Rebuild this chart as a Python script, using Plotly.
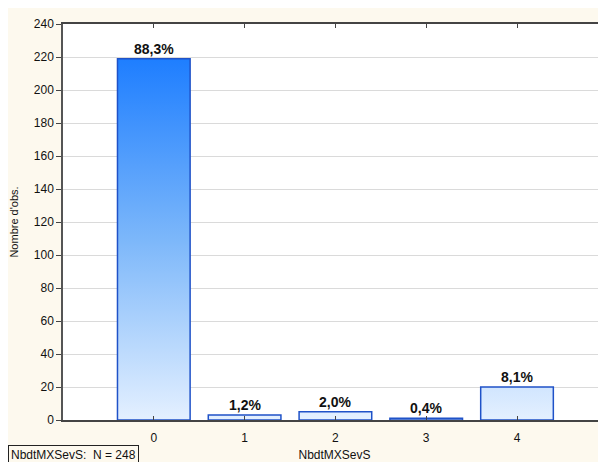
import plotly.graph_objects as go

categories = [0, 1, 2, 3, 4]
counts = [219, 3, 5, 1, 20]
pct_labels = ["88,3%", "1,2%", "2,0%", "0,4%", "8,1%"]
y_ticks = list(range(0, 241, 20))
n_total = 248

# page is rendered with an 8px body margin
W, H = 598, 454
ML, MR, MT, MB = 55, 0, 16, 42
pw = W - ML - MR
ph = H - MT - MB

bar_w = 0.8
fig = go.Figure()
for c, v in zip(categories, counts):
    xs = [c - bar_w / 2, c - bar_w / 2, c + bar_w / 2, c + bar_w / 2, c - bar_w / 2]
    ys = [0, v, v, 0, 0]
    fig.add_trace(go.Scatter(
        x=xs, y=ys, mode="lines", fill="toself",
        line=dict(color="#1F52C8", width=1.5),
        fillgradient=dict(type="vertical", start=0, stop=max(counts),
                          colorscale=[[0, "#E4F0FF"], [0.5, "#7CB7FA"], [1, "#1E7EFF"]]),
        showlegend=False, hoverinfo="skip",
    ))

for c, v, t in zip(categories, counts, pct_labels):
    fig.add_annotation(x=c, y=v, text="<b>" + t + "</b>", showarrow=False,
                       yanchor="bottom", yshift=0,
                       font=dict(family="Liberation Sans, Arial", size=14, color="#111"))


def px_to_paper_x(p):
    return (p - ML) / pw


def px_to_paper_y(p):
    return (H - MB - p) / ph


fig.add_annotation(xref="paper", yref="paper", x=px_to_paper_x(0), y=px_to_paper_y(437),
                   xanchor="left", yanchor="top", showarrow=False,
                   text=f"NbdtMXSevS:&nbsp; N = {n_total}",
                   bordercolor="#222", borderwidth=1, borderpad=2, bgcolor="#FDF9EE",
                   font=dict(family="Liberation Sans, Arial", size=12, color="#111"))

fig.update_layout(
    width=W, height=H,
    margin=dict(l=ML, r=MR, t=MT, b=MB, pad=0),
    paper_bgcolor="#FDF9EE", plot_bgcolor="white",
    font=dict(family="Liberation Sans, Arial", size=12, color="#111"),
    xaxis=dict(range=[-1.0, 4.98], tickmode="array", tickvals=categories,
               ticktext=[str(c) for c in categories],
               ticks="inside", ticklen=4, tickcolor="#444",
               showline=True, linecolor="#444", linewidth=1.5, mirror="ticks",
               showgrid=False, zeroline=False, ticklabelstandoff=6,
               title=dict(text="NbdtMXSevS", font=dict(size=12), standoff=8),
               tickfont=dict(size=12)),
    yaxis=dict(range=[0, 240], tickmode="array", tickvals=y_ticks,
               ticks="outside", ticklen=5, tickcolor="#444",
               showline=True, linecolor="#555", linewidth=1.5,
               showgrid=True, gridcolor="#DADADA", gridwidth=1, zeroline=False,
               title=dict(text="Nombre d'obs.", font=dict(size=11), standoff=14),
               tickfont=dict(size=12)),
)

fig.write_html("out.html")
